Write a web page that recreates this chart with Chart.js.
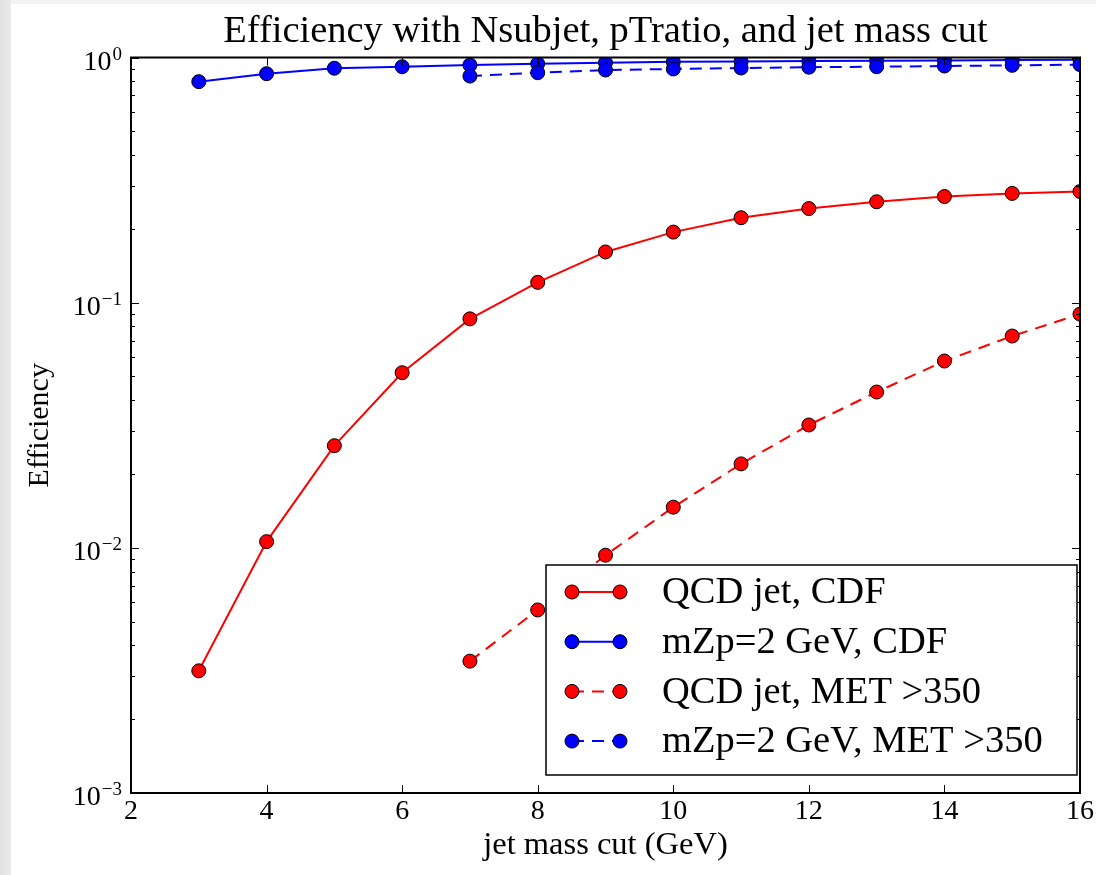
<!DOCTYPE html>
<html>
<head>
<meta charset="utf-8">
<title>Efficiency with Nsubjet, pTratio, and jet mass cut</title>
<script src="https://cdn.jsdelivr.net/npm/chart.js@4.4.0/dist/chart.umd.min.js"></script>
<style>
html,body{margin:0;padding:0;}
body{width:1096px;height:875px;overflow:hidden;position:relative;
  background:linear-gradient(to right,#e2e2e2 0px,#ebebeb 11px,#f3f3f3 11px);}
#wrap{position:absolute;left:11px;top:4px;width:1085px;height:871px;background:#fff;}
</style>
</head>
<body>
<div id="wrap"><canvas id="effChart" width="1085" height="871"></canvas></div>
<script>
// --- Data ---
const TITLE = 'Efficiency with Nsubjet, pTratio, and jet mass cut';
const X_LABEL = 'jet mass cut (GeV)';
const Y_LABEL = 'Efficiency';
const X_TICKS = [2, 4, 6, 8, 10, 12, 14, 16];
const Y_DECADES = [0.001, 0.01, 0.1, 1];

const cutCDF = [3, 4, 5, 6, 7, 8, 9, 10, 11, 12, 13, 14, 15, 16];
const qcdCDF = [0.00315, 0.0106, 0.0261, 0.0518, 0.0859, 0.121, 0.161, 0.194, 0.222, 0.242, 0.258, 0.271, 0.279, 0.284];
const mzpCDF = [0.797, 0.859, 0.904, 0.917, 0.932, 0.943, 0.953, 0.960, 0.964, 0.967, 0.970, 0.973, 0.976, 0.979];

const cutMET = [7, 8, 9, 10, 11, 12, 13, 14, 15, 16];
const qcdMET = [0.00345, 0.00558, 0.00933, 0.01465, 0.0220, 0.0317, 0.0432, 0.0578, 0.0731, 0.0898];
const mzpMET = [0.840, 0.867, 0.889, 0.898, 0.906, 0.913, 0.917, 0.923, 0.929, 0.935];

const LABELS = ['QCD jet, CDF', 'mZp=2 GeV, CDF', 'QCD jet, MET >350', 'mZp=2 GeV, MET >350'];

// --- Style ---
const FONT = '"Liberation Serif", "Times New Roman", serif';
const RED = '#ff0000', BLUE = '#0000ff';

function series(label, xs, ys, color, dashed, order) {
  return {
    label: label,
    data: xs.map((x, i) => ({x: x, y: ys[i]})),
    borderColor: color,
    backgroundColor: color,
    pointBackgroundColor: color,
    pointBorderColor: '#000',
    pointBorderWidth: 1,
    pointRadius: 7,
    pointHoverRadius: 7,
    borderWidth: 2,
    borderDash: dashed ? [12, 8] : [],
    tension: 0,
    order: order
  };
}

// title centred over the plot area
const plotTitle = {
  id: 'plotTitle',
  afterDraw(chart) {
    const {ctx, chartArea: a} = chart;
    ctx.save();
    ctx.fillStyle = '#000';
    ctx.font = '38.5px ' + FONT;
    ctx.textAlign = 'center';
    ctx.textBaseline = 'alphabetic';
    ctx.fillText(TITLE, (a.left + a.right) / 2, a.top - 16);
    ctx.restore();
  }
};

// frame + inward ticks (matplotlib style)
const frameTicks = {
  id: 'frameTicks',
  afterDatasetsDraw(chart) {
    const {ctx, chartArea: a, scales: {x, y}} = chart;
    ctx.save();
    ctx.strokeStyle = '#000';
    ctx.lineWidth = 1;
    ctx.beginPath();
    X_TICKS.forEach(v => {
      const px = Math.round(x.getPixelForValue(v)) + 0.5;
      ctx.moveTo(px, a.bottom); ctx.lineTo(px, a.bottom - 8);
      ctx.moveTo(px, a.top); ctx.lineTo(px, a.top + 8);
    });
    Y_DECADES.forEach((d, k) => {
      const mults = k === Y_DECADES.length - 1 ? [1] : [1, 2, 3, 4, 5, 6, 7, 8, 9];
      mults.forEach(m => {
        const py = Math.round(y.getPixelForValue(d * m)) + 0.5;
        const len = m === 1 ? 8 : 4;
        ctx.moveTo(a.left, py); ctx.lineTo(a.left + len, py);
        ctx.moveTo(a.right, py); ctx.lineTo(a.right - len, py);
      });
    });
    ctx.stroke();
    ctx.lineWidth = 2;
    ctx.strokeRect(a.left, a.top, a.right - a.left, a.bottom - a.top);
    ctx.restore();
  }
};

// y tick labels as 10^n
const powerLabels = {
  id: 'powerLabels',
  afterDraw(chart) {
    const {ctx, chartArea: a, scales: {y}} = chart;
    ctx.save();
    ctx.fillStyle = '#000';
    ctx.textAlign = 'right';
    ctx.textBaseline = 'alphabetic';
    Y_DECADES.forEach(v => {
      const py = y.getPixelForValue(v);
      const n = Math.round(Math.log10(v));
      const exp = n === 0 ? '0' : '\u2212' + Math.abs(n);
      const right = a.left - 9;
      ctx.font = '19px ' + FONT;
      const ew = ctx.measureText(exp).width;
      ctx.fillText(exp, right, py + 2);
      ctx.font = '28px ' + FONT;
      ctx.fillText('10', right - ew - 1, py + 12);
    });
    ctx.restore();
  }
};

// boxed legend with line + two markers per entry
const boxLegend = {
  id: 'boxLegend',
  afterDraw(chart) {
    const {ctx, chartArea: a} = chart;
    const w = 531, h = 210;
    const left = a.right - 3 - w, top = a.bottom - 18 - h;
    ctx.save();
    ctx.fillStyle = '#fff';
    ctx.fillRect(left, top, w, h);
    ctx.lineWidth = 1.5;
    ctx.strokeStyle = '#000';
    ctx.strokeRect(left, top, w, h);
    chart.data.datasets.forEach((d, i) => {
      const cy = top + 27 + i * 49.7;
      const x0 = left + 26, x1 = left + 74;
      ctx.strokeStyle = d.borderColor;
      ctx.lineWidth = d.borderWidth;
      ctx.setLineDash(d.borderDash);
      ctx.beginPath(); ctx.moveTo(x0, cy); ctx.lineTo(x1, cy); ctx.stroke();
      ctx.setLineDash([]);
      [x0, x1].forEach(px => {
        ctx.beginPath();
        ctx.arc(px, cy, d.pointRadius, 0, Math.PI * 2);
        ctx.fillStyle = d.pointBackgroundColor; ctx.fill();
        ctx.lineWidth = d.pointBorderWidth; ctx.strokeStyle = d.pointBorderColor; ctx.stroke();
      });
      ctx.fillStyle = '#000';
      ctx.font = '38.5px ' + FONT;
      ctx.textAlign = 'left';
      ctx.textBaseline = 'middle';
      ctx.fillText(d.label, left + 116, cy + 1);
    });
    ctx.restore();
  }
};

const chart = new Chart(document.getElementById('effChart'), {
  type: 'line',
  data: {
    datasets: [
      series(LABELS[0], cutCDF, qcdCDF, RED, false, 4),
      series(LABELS[1], cutCDF, mzpCDF, BLUE, false, 3),
      series(LABELS[2], cutMET, qcdMET, RED, true, 2),
      series(LABELS[3], cutMET, mzpMET, BLUE, true, 1)
    ]
  },
  options: {
    responsive: false,
    animation: false,
    devicePixelRatio: 1,
    layout: {padding: {top: 53.5, right: 16, left: 0, bottom: 0}},
    scales: {
      x: {
        type: 'linear', min: 2, max: 16,
        grid: {display: false}, border: {display: false},
        ticks: {stepSize: 2, color: '#000', padding: -6, maxRotation: 0, autoSkip: false,
                font: {family: FONT, size: 28}},
        title: {display: true, text: X_LABEL, color: '#000',
                font: {family: FONT, size: 32.5}, padding: {top: 0, bottom: 10}},
        afterFit(s) { s.height = 82; s.paddingLeft = 0; s.paddingRight = 0; }
      },
      y: {
        type: 'logarithmic', min: 0.001, max: 1,
        grid: {display: false}, border: {display: false},
        afterBuildTicks(s) { s.ticks = Y_DECADES.map(v => ({value: v, major: true})); },
        ticks: {display: false},
        title: {display: true, text: Y_LABEL, color: '#000',
                font: {family: FONT, size: 30}, padding: {top: 11, bottom: 0}},
        afterFit(s) { s.width = 120; s.paddingTop = 0; s.paddingBottom = 0; }
      }
    },
    plugins: {
      legend: {display: false},
      tooltip: {enabled: false}
    }
  },
  plugins: [frameTicks, powerLabels, plotTitle, boxLegend]
});
</script>
</body>
</html>
